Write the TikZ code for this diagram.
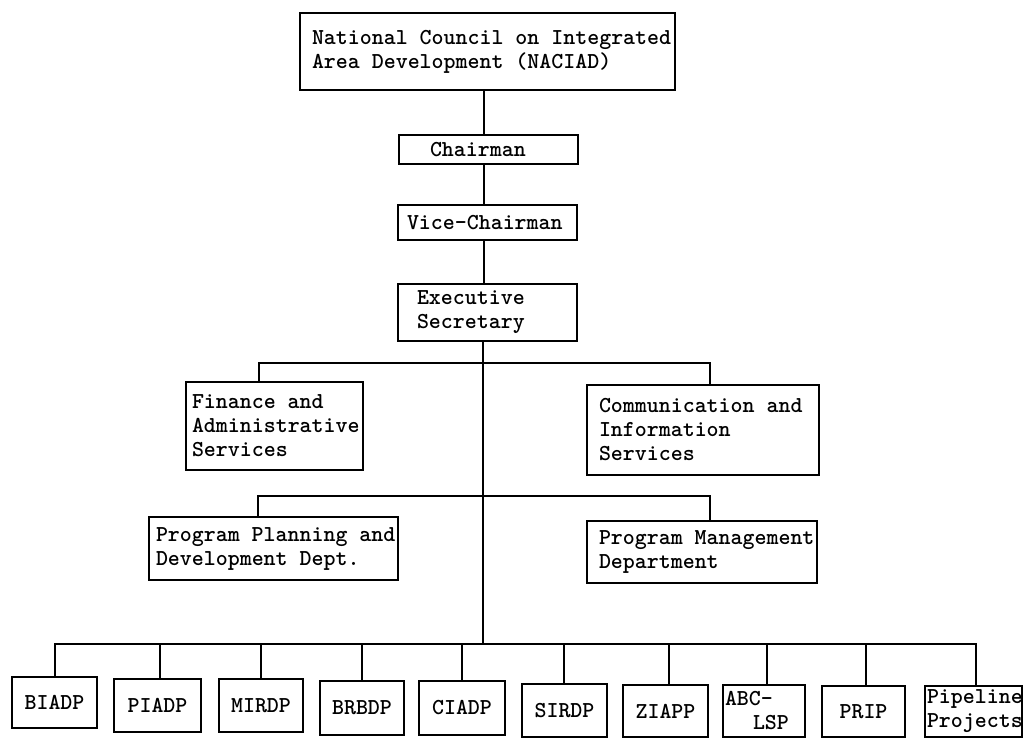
\documentclass[tikz,border=0pt]{standalone}
\usepackage{fontspec}
\usetikzlibrary{calc}
\begin{document}
\begin{tikzpicture}[x=1pt,y=-1pt,
  txt/.style={font=\ttfamily\bfseries\fontsize{22.8pt}{24pt}\selectfont,
    execute at begin node={\spaceskip=11.97pt\relax\hyphenpenalty=10000\exhyphenpenalty=10000}},
  bx/.style={txt, draw, line width=2pt, align=left, inner ysep=0pt},
  sb/.style={txt, draw, line width=2pt, align=center, inner sep=0pt},
  ln/.style={line width=2pt, line join=miter, line cap=rect}]
\fill[white] (0,0) rectangle (1030,739);
\useasboundingbox (0,0) rectangle (1030,739);

% upper chain
\node[bx, inner xsep=12pt, text width=351pt, minimum height=77pt] (nac) at (487.5,51.5)
  {\mbox{National Council on Integrated}\\Area Development (NACIAD)\par\vspace*{26pt}};
\node[bx, inner xsep=31pt, text width=117pt, minimum height=29pt] (chair) at (488.5,149.5) {Chairman};
\node[bx, inner xsep=9pt, text width=161pt, minimum height=35pt] (vice) at (487.5,222.5) {Vice-Chairman};
\node[bx, inner xsep=19pt, text width=141pt, minimum height=57pt] (exec) at (487.5,312.5) {Executive\\Secretary};

% staff units
\node[bx, inner xsep=6pt, text width=165pt, minimum height=88pt] (fin) at (274.5,426)
  {Finance and\\\mbox{Administrative}\\Services};
\node[bx, inner xsep=12pt, text width=208pt, minimum height=90pt] (comm) at (703,430)
  {Communication and\\Information\\Services};
\node[bx, inner xsep=7pt, text width=235pt, minimum height=63pt] (ppd) at (273.5,548.5)
  {\mbox{Program Planning and}\\Development Dept.};
\node[bx, inner xsep=12pt, text width=206pt, minimum height=62pt] (pmd) at (702,552)
  {\mbox{Program Management}\\Department};

% projects
\node[sb, minimum width=85pt, minimum height=51pt] (b1) at (54.5,702.5) {BIADP};
\node[sb, minimum width=87pt, minimum height=53pt] (b2) at (157.5,705.5) {PIADP};
\node[sb, minimum width=84pt, minimum height=53pt] (b3) at (261,705.5) {MIRDP};
\node[sb, minimum width=84pt, minimum height=54pt] (b4) at (362,708) {BRBDP};
\node[sb, minimum width=86pt, minimum height=54pt] (b5) at (462,708) {CIADP};
\node[sb, minimum width=85pt, minimum height=53pt] (b6) at (564.5,710.5) {SIRDP};
\node[sb, minimum width=85pt, minimum height=52pt] (b7) at (665.5,711) {ZIAPP};
\node[sb, align=left, inner xsep=2pt, text width=78pt, minimum height=52pt] (b8) at (764,711)
  {ABC-\\\hspace*{28pt}LSP};
\node[sb, minimum width=83pt, minimum height=51pt] (b9) at (863.5,711.5) {PRIP};
\node[sb, align=left, inner xsep=2pt, text width=93pt, minimum height=51pt] (b10) at (973.5,711.5)
  {\mbox{Pipeline}\\\mbox{Projects}};

% connectors
\coordinate (sp) at (484,0);
\coordinate (j1) at (483,363);
\coordinate (j2) at (483,496);
\coordinate (j3) at (483,644);
\draw[ln] (nac.south -| sp) -- (chair.north -| sp);
\draw[ln] (chair.south -| sp) -- (vice.north -| sp);
\draw[ln] (vice.south -| sp) -- (exec.north -| sp);
\draw[ln] (exec.south -| j1) -- (j3);
\draw[ln] ([xshift=-15.5pt]fin.north) |- (j1) -| ([xshift=7pt]comm.north);
\draw[ln] ([xshift=-15.5pt]ppd.north) |- (j2) -| ([xshift=8pt]pmd.north);
\draw[ln] (b1.north) |- (j3) -| ([xshift=2.5pt]b10.north);
\foreach \n/\d in {b2/2.5,b3/0,b4/0,b5/0,b6/-0.5,b7/3.5,b8/3,b9/2.5}
  \draw[ln] ([xshift=\d pt]\n.north) -- ([xshift=\d pt]\n.north |- j3);
\end{tikzpicture}
\end{document}
